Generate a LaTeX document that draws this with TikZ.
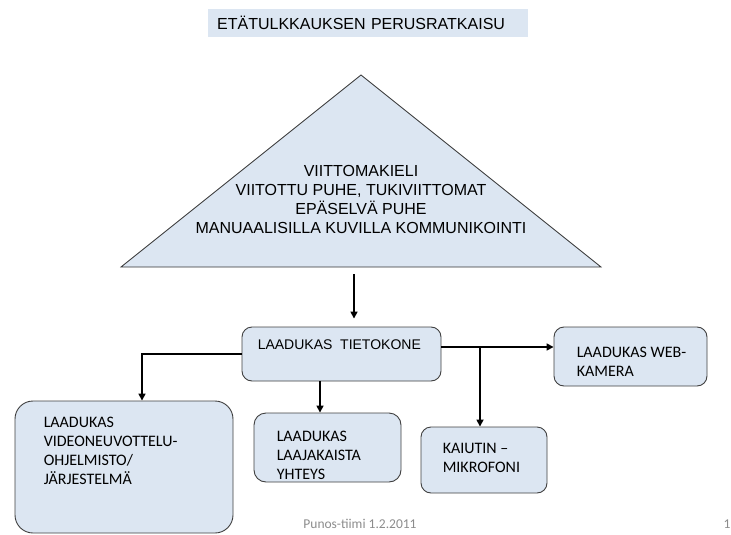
\documentclass[tikz,border=0pt]{standalone}
\usepackage{fontspec}
\setmainfont{Liberation Sans}
\newfontfamily\calibri{Carlito}
\usepackage{xcolor}
\usetikzlibrary{calc, positioning, arrows.meta}
\definecolor{paleblue}{RGB}{220,230,242}

\begin{document}
\begin{tikzpicture}
  [x=1pt, y=-1pt,
   unit/.style={draw=black!75, fill=paleblue, line width=0.9pt, rounded corners=10pt, inner sep=0pt},
   boxtext/.style={anchor=north west, inner sep=0pt, align=left, font=\calibri\fontsize{16}{19}\selectfont},
   link/.style={-{Triangle[length=7pt, width=7pt]}, line width=1.6pt}]
  \useasboundingbox (0,0) rectangle (731,535);

  % title %
  \node[fill=paleblue, anchor=west, inner xsep=9pt, text width=302pt, minimum height=28pt, align=left,
        font=\fontsize{16}{19}\selectfont] (title) at (208,23) {ETÄTULKKAUKSEN PERUSRATKAISU};

  % triangle %
  \coordinate (apex) at (361,75);
  \coordinate (baseleft) at (121,267);
  \coordinate (baseright) at (601,267);
  \filldraw[fill=paleblue, draw=black!80, line width=0.8pt] (apex) -- (baseright) -- (baseleft) -- cycle;
  \node[align=center, font=\fontsize{16}{19}\selectfont] (modes) at (361,199)
    {VIITTOMAKIELI\\VIITOTTU PUHE, TUKIVIITTOMAT\\EPÄSELVÄ PUHE\\MANUAALISILLA KUVILLA KOMMUNIKOINTI};

  % nodes %
  \node[unit, minimum width=199pt, minimum height=54pt] (pc) at (341.5,354) {};
  \node[unit, rounded corners=18pt, minimum width=218pt, minimum height=132pt] (video) at (124,467) {};
  \node[unit, rounded corners=12pt, minimum width=147pt, minimum height=69pt] (net) at (327.5,447.5) {};
  \node[unit, minimum width=126pt, minimum height=66pt] (mic) at (484,460) {};
  \node[unit, minimum width=153pt, minimum height=59pt] (cam) at (630.5,356.5) {};

  % texts %
  \node[boxtext, font=\fontsize{14}{17}\selectfont, below right=13pt and 16pt of pc.north west] (pctext) {LAADUKAS\ \ TIETOKONE};
  \node[boxtext, below right=16pt and 29pt of video.north west] (videotext) {LAADUKAS\\VIDEONEUVOTTELU-\\OHJELMISTO/\\JÄRJESTELMÄ};
  \node[boxtext, below right=18pt and 23pt of net.north west] (nettext) {LAADUKAS\\LAAJAKAISTA\\YHTEYS};
  \node[boxtext, below right=16pt and 22pt of mic.north west] (mictext) {KAIUTIN –\\MIKROFONI};
  \node[boxtext, below right=20pt and 23pt of cam.north west] (camtext) {LAADUKAS WEB-\\KAMERA};

  % footer %
  \node[font=\calibri\fontsize{13.5}{16}\selectfont, text=black!45] (footer) at (360,524) {Punos-tiimi 1.2.2011};
  \node[font=\calibri\fontsize{13.5}{16}\selectfont, text=black!45] (pageno) at (727,524) {1};

  % edges %
  \coordinate (drop) at (354,274);
  \coordinate (pcout) at ([yshift=7pt]pc.east);
  \coordinate (tap) at (480,347);
  \coordinate (netin) at ([xshift=-7.5pt]net.north);
  \draw[link, shorten >=8pt] (drop) -- (drop |- pc.north);
  \draw[link] (pc.west) -| ([xshift=18pt]video.north);
  \draw[link] (netin |- pc.south) -- (netin);
  \draw[link] (pcout) -- (pcout -| cam.west);
  \draw[link] (tap) -- (tap |- mic.north);
\end{tikzpicture}
\end{document}
